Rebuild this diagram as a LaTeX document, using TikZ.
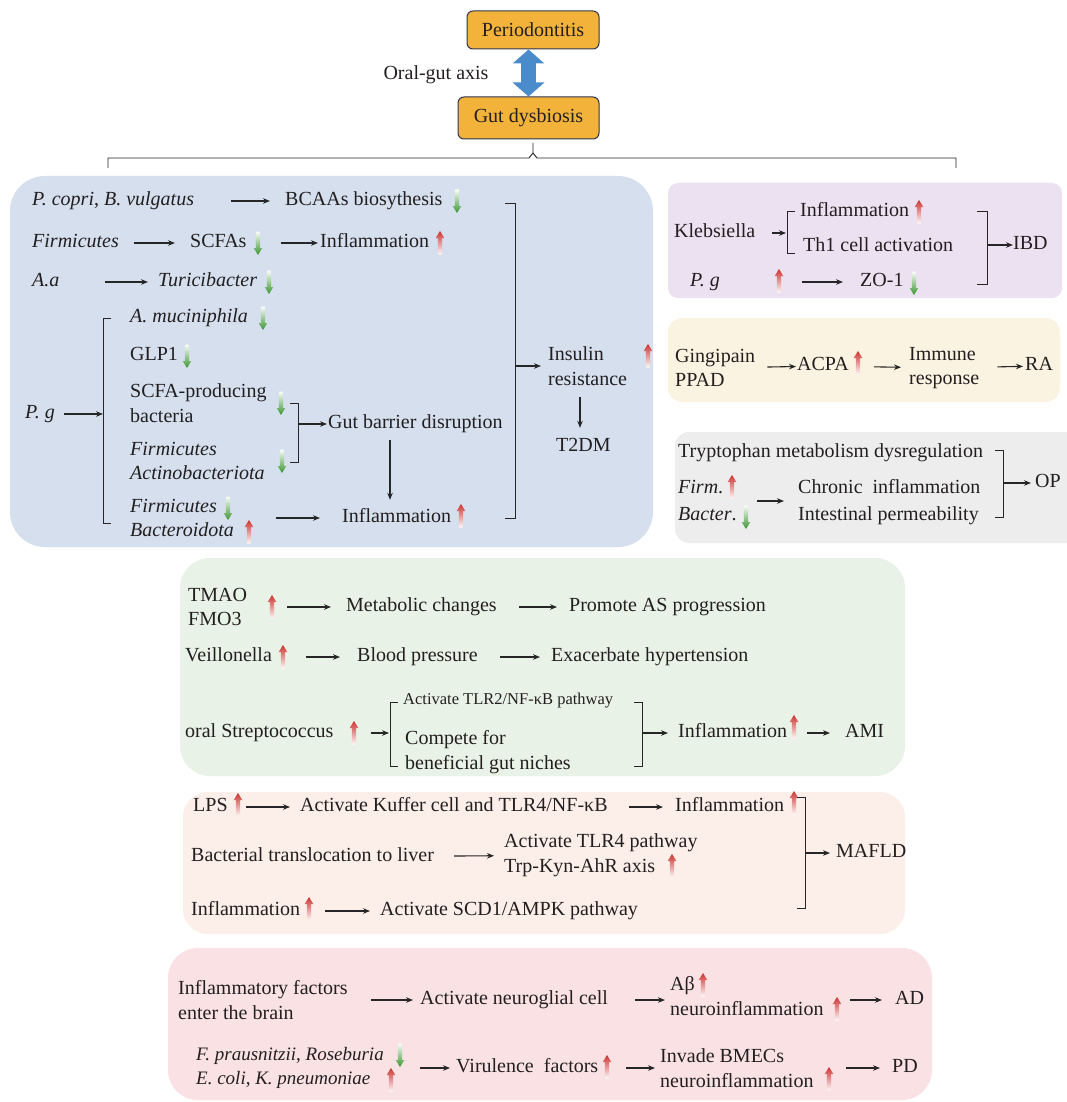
\documentclass[tikz,border=0pt]{standalone}
\usepackage{fontspec}
\setmainfont{Liberation Serif}
\usetikzlibrary{arrows.meta}
\definecolor{textc}{HTML}{231F20}
\definecolor{orangebox}{HTML}{F3B23A}
\definecolor{orangeborder}{HTML}{2F3550}
\definecolor{axisblue}{HTML}{4A8BCB}
\definecolor{bluebg}{HTML}{D5DFEE}
\definecolor{purplebg}{HTML}{EBE1F0}
\definecolor{yellowbg}{HTML}{FBF3E1}
\definecolor{greybg}{HTML}{EDEDED}
\definecolor{greenbg}{HTML}{E9F2E6}
\definecolor{salmonbg}{HTML}{FCEEE9}
\definecolor{pinkbg}{HTML}{F9E1E4}
\definecolor{upred}{HTML}{CC3431}
\definecolor{dngreen}{HTML}{3A9530}
\begin{document}
\begin{tikzpicture}[x=1pt,y=-1pt,
  txt/.style={inner sep=0pt, anchor=west, text height=13.5pt, text depth=4.5pt, text=textc, font=\fontsize{20}{24.5}\selectfont},
  ml/.style={inner sep=0pt, anchor=west, align=left, text=textc, font=\fontsize{20}{24.5}\selectfont},
  arr/.style={-{Stealth[length=7pt,width=5.5pt]}, line width=1.1pt, black!85},
  brk/.style={line width=1pt, black!85},
  topbox/.style={draw=orangeborder, line width=1pt, fill=orangebox, rounded corners=6pt, inner sep=0pt, text=textc, font=\fontsize{20}{24}\selectfont},
  upa/.pic={\shade[top color=upred, middle color=upred!65, bottom color=upred!3] (-2.1,11.5) -- (-2.1,-5) -- (-4.3,-5) -- (0,-12) -- (4.3,-5) -- (2.1,-5) -- (2.1,11.5) -- cycle;},
  dna/.pic={\shade[top color=dngreen!3, middle color=dngreen!65, bottom color=dngreen] (-2.1,-11.5) -- (-2.1,5) -- (-4.3,5) -- (0,12) -- (4.3,5) -- (2.1,5) -- (2.1,-11.5) -- cycle;}
]
\useasboundingbox (0,0) rectangle (1066,1102);
\fill[white] (0,0) rectangle (1066,1102);

% ---------- top ----------
\node[topbox, minimum width=132pt, minimum height=38pt] (per) at (533,30) {Periodontitis};
\node[topbox, minimum width=141pt, minimum height=42pt] (gut) at (528.5,118) {Gut dysbiosis};
\draw[axisblue, line width=15pt, {Triangle[width=31pt,length=14pt]}-{Triangle[width=31pt,length=14pt]}] (per.south -| gut.north) -- (gut.north);
\node[txt, anchor=center] (axis) at (436,75) {Oral-gut axis};
\coordinate (bl) at (108,168);
\coordinate (br) at (956,168);
\coordinate (bt) at (533,143);
\draw[brk, line width=0.9pt] (bl) -- (108,158) -- (529,158) -- (533,153) -- (bt);
\draw[brk, line width=0.9pt] (533,153) -- (537,158) -- (956,158) -- (br);

% ---------- blue box (T2DM) ----------
\fill[bluebg, rounded corners=35pt] (10,176) rectangle (653,547);
\node[txt] (pcopri) at (32,201) {\textit{P. copri}, \textit{B. vulgatus}};
\node[txt] (bcaa) at (285,201) {BCAAs biosythesis};
\pic at (457,201) {dna};
\draw[arr, shorten <=37pt, shorten >=15pt] (pcopri) -- (bcaa);

\node[txt] (firm1) at (32,243) {\textit{Firmicutes}};
\node[txt] (scfa) at (190,243) {SCFAs};
\pic at (258,243) {dna};
\node[txt] (infl1) at (320,243) {Inflammation};
\pic at (440,243) {upa};
\draw[arr, shorten <=15pt, shorten >=15pt] (firm1) -- (scfa);
\draw[arr, shorten <=34pt, shorten >=2pt] (scfa) -- (infl1);

\node[txt] (aa) at (32,282) {\textit{A.a}};
\node[txt] (turi) at (158,282) {\textit{Turicibacter}};
\pic at (269,282) {dna};
\draw[arr, shorten <=45pt, shorten >=10pt] (aa) -- (turi);

\node[txt] (pg1) at (25,414) {\textit{P.\ g}};
\coordinate (pgb) at (103,414);
\draw[brk] (111,318) -- (103,318) -- (103,523) -- (111,523);
\draw[arr, shorten <=9pt] (pg1) -- (pgb);

\node[txt] (amuc) at (130,318) {\textit{A. muciniphila}};
\pic at (263,318) {dna};
\node[txt] (glp) at (130,356) {GLP1};
\pic at (187,356) {dna};
\node[ml] (scfap) at (130,403) {SCFA-producing\\bacteria};
\pic at (281,403) {dna};
\node[ml] (firmact) at (130,461) {\textit{Firmicutes}\\\textit{Actinobacteriota}};
\pic at (282,461) {dna};
\draw[brk] (290,403) -- (298,403) -- (298,462) -- (290,462);
\coordinate (sbr) at (298,424);
\node[txt] (gbd) at (328,424) {Gut barrier disruption};
\draw[arr, shorten >=1pt] (sbr) -- (gbd);

\node[ml] (firmbac) at (130,518) {\textit{Firmicutes}\\\textit{Bacteroidota}};
\pic at (228,508) {dna};
\pic at (249,532) {upa};
\node[txt] (infl2) at (342,518) {Inflammation};
\pic at (461,516) {upa};
\draw[arr, shorten <=42pt, shorten >=22pt] (firmbac) -- (infl2);
\draw[arr, shorten <=7pt, shorten >=9pt] (gbd.south -| 390,0) -- (infl2.north -| 390,0);

\draw[brk] (505,203) -- (515,203) -- (515,518) -- (505,518);
\coordinate (bbr) at (515,366);
\node[ml] (ins) at (548,366) {Insulin\\resistance};
\pic at (648,356) {upa};
\draw[arr, shorten >=7pt] (bbr) -- (ins);
\node[txt] (t2dm) at (556,447) {T2DM};
\draw[arr, shorten <=12pt, shorten >=10pt] (ins.south -| 580,0) -- (t2dm.north -| 580,0);

% ---------- purple box (IBD) ----------
\fill[purplebg, rounded corners=10pt] (668,183) rectangle (1062,298);
\node[txt] (kleb) at (674,233) {Klebsiella};
\draw[brk] (795,211) -- (787,211) -- (787,253) -- (795,253);
\coordinate (kb) at (787,233);
\draw[arr, shorten <=17pt, shorten >=1pt] (kleb) -- (kb);
\node[txt] (inflp) at (800,212) {Inflammation};
\pic at (919,212) {upa};
\node[txt] (th1) at (803,247) {Th1 cell activation};
\node[txt] (pgp) at (690,282) {\textit{P.\ g}};
\pic at (779,281) {upa};
\node[txt] (zo1) at (860,282) {ZO-1};
\pic at (914,283) {dna};
\draw[arr, shorten <=82pt, shorten >=17pt] (pgp) -- (zo1);
\draw[brk] (977,211) -- (987,211) -- (987,284) -- (977,284);
\coordinate (ib) at (987,245);
\node[txt] (ibd) at (1013,245) {IBD};
\draw[arr] (ib) -- (ibd);

% ---------- yellow box (RA) ----------
\fill[yellowbg, rounded corners=14pt] (668,318) rectangle (1060,402);
\node[ml] (ging) at (675,368) {Gingipain\\PPAD};
\node[txt] (acpa) at (797,366) {ACPA};
\pic at (858,363) {upa};
\node[ml] (immune) at (909,368) {Immune\\response};
\node[txt] (ra) at (1025,366) {RA};
\draw[arr, shorten <=12pt, shorten >=1pt] (ging) -- (acpa);
\draw[arr, shorten <=25pt, shorten >=8pt] (acpa) -- (immune);
\draw[arr, shorten <=18pt, shorten >=2pt] (immune) -- (ra);

% ---------- grey box (OP) ----------
\fill[greybg, rounded corners=14pt] (675,432) rectangle (1090,543);
\node[txt] (trp) at (678,453) {Tryptophan metabolism dysregulation};
\node[txt] (firmg) at (678,489) {\textit{Firm}.};
\pic at (732,487) {upa};
\node[txt] (bact) at (678,516) {\textit{Bacter}.};
\pic at (746,517) {dna};
\node[txt] (chron) at (798,489) {Chronic\ \ inflammation};
\node[txt] (intp) at (798,516) {Intestinal permeability};
\coordinate (gs) at (757,501);
\draw[arr, shorten >=14pt] (gs) -- (gs -| chron.west);
\draw[brk] (995,450) -- (1003,450) -- (1003,517) -- (995,517);
\coordinate (ob) at (1003,483);
\node[txt] (op) at (1035,483) {OP};
\draw[arr, shorten >=4pt] (ob) -- (op);

% ---------- green box (AS / hypertension / AMI) ----------
\fill[greenbg, rounded corners=30pt] (180,558) rectangle (905,776);
\node[ml] (tmao) at (188,607) {TMAO\\FMO3};
\pic at (272,607) {upa};
\node[txt] (metab) at (346,607) {Metabolic changes};
\node[txt] (asp) at (569,607) {Promote AS progression};
\draw[arr, shorten <=40pt, shorten >=15pt] (tmao) -- (metab);
\draw[arr, shorten <=22pt, shorten >=12pt] (metab) -- (asp);

\node[txt] (veil) at (185,657) {Veillonella};
\pic at (283,657) {upa};
\node[txt] (bp) at (357,657) {Blood pressure};
\node[txt] (exh) at (551,657) {Exacerbate hypertension};
\draw[arr, shorten <=34pt, shorten >=17pt] (veil) -- (bp);
\draw[arr, shorten <=22pt, shorten >=11pt] (bp) -- (exh);

\node[txt] (strep) at (185,733) {oral Streptococcus};
\pic at (354,733) {upa};
\draw[brk] (398,702) -- (390,702) -- (390,766) -- (398,766);
\coordinate (sb) at (390,733);
\draw[arr, shorten <=37pt, shorten >=1pt] (strep) -- (sb);
\node[txt, font=\fontsize{16.5}{20}\selectfont, text height=11pt, text depth=4pt] (tlr2) at (403,701) {Activate TLR2/NF-κB pathway};
\node[ml] (compete) at (405,752) {Compete for\\beneficial gut niches};
\draw[brk] (634,702) -- (642,702) -- (642,766) -- (634,766);
\coordinate (sb2) at (642,733);
\node[txt] (inflg) at (678,733) {Inflammation};
\pic at (794,727) {upa};
\node[txt] (ami) at (845,733) {AMI};
\draw[arr, shorten >=10pt] (sb2) -- (inflg);
\draw[arr, shorten <=20pt, shorten >=15pt] (inflg) -- (ami);

% ---------- salmon box (MAFLD) ----------
\fill[salmonbg, rounded corners=25pt] (183,792) rectangle (905,934);
\node[txt] (lps) at (193,807) {LPS};
\pic at (238,805) {upa};
\node[txt] (kuf) at (300,807) {Activate Kuffer cell and TLR4/NF-κB};
\node[txt] (infls) at (675,807) {Inflammation};
\pic at (794,803) {upa};
\draw[arr, shorten <=18pt, shorten >=10pt] (lps) -- (kuf);
\draw[arr, shorten <=21pt, shorten >=12pt] (kuf) -- (infls);

\node[txt] (bact2) at (191,857) {Bacterial translocation to liver};
\node[ml] (tlr4) at (504,855) {Activate TLR4 pathway\\Trp-Kyn-AhR axis};
\pic at (672,866) {upa};
\draw[arr, shorten <=20pt, shorten >=10pt] (bact2) -- (tlr4);

\node[txt] (infls2) at (191,911) {Inflammation};
\pic at (309,909) {upa};
\node[txt] (scd) at (380,911) {Activate SCD1/AMPK pathway};
\draw[arr, shorten <=25pt, shorten >=10pt] (infls2) -- (scd);

\draw[brk] (797,797) -- (805,797) -- (805,908) -- (797,908);
\coordinate (mb) at (805,853);
\node[txt] (mafld) at (836,853) {MAFLD};
\draw[arr, shorten >=6pt] (mb) -- (mafld);

% ---------- pink box (AD / PD) ----------
\fill[pinkbg, rounded corners=30pt] (168,948) rectangle (932,1100);
\node[ml] (inff) at (178,1000) {Inflammatory factors\\enter the brain};
\node[txt] (ang) at (420,1000) {Activate neuroglial cell};
\node[txt] (abeta) at (670,986) {Aβ};
\pic at (703,985) {upa};
\node[txt] (neuro1) at (670,1011) {neuroinflammation};
\pic at (837,1009) {upa};
\node[txt] (ad) at (895,1000) {AD};
\draw[arr, shorten <=23pt, shorten >=7pt] (inff) -- (ang);
\draw[arr, shorten <=27pt, shorten >=5pt] (ang) -- (ang -| neuro1.west);
\coordinate (ads) at (850,1000);
\draw[arr, shorten >=13pt] (ads) -- (ad);

\node[ml, font=\fontsize{19}{24}\selectfont] (fpr) at (196,1068) {\textit{F. prausnitzii}, \textit{Roseburia}\\\textit{E. coli}, \textit{K. pneumoniae}};
\pic at (400,1055) {dna};
\pic at (391,1080) {upa};
\node[txt] (vir) at (456,1068) {Virulence\ \ factors};
\pic at (607,1067) {upa};
\node[ml] (inv) at (660,1068) {Invade BMECs\\neuroinflammation};
\pic at (829,1079) {upa};
\node[txt] (pd) at (892,1068) {PD};
\draw[arr, shorten <=36pt, shorten >=6pt] (fpr) -- (vir);
\draw[arr, shorten <=28pt, shorten >=5pt] (vir) -- (inv);
\draw[arr, shorten <=32pt, shorten >=12pt] (inv) -- (pd);
\end{tikzpicture}
\end{document}
